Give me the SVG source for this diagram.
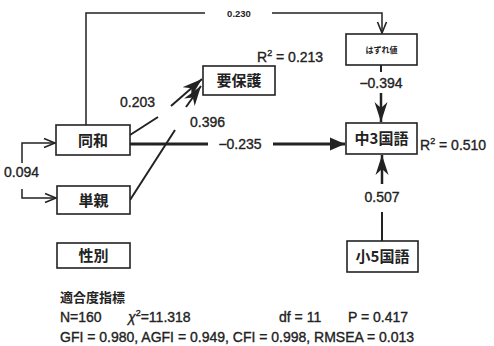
<svg xmlns="http://www.w3.org/2000/svg" width="494" height="346" viewBox="0 0 494 346">
<style>
.box{fill:#fff;stroke:#222;stroke-width:1.6}
.lbl{font-family:"Liberation Sans","Noto Sans CJK JP",sans-serif;font-size:14px;fill:#222;stroke:#222;stroke-width:0.35}
.jp{font-family:"Noto Sans CJK JP",sans-serif;font-weight:bold;font-size:15px;fill:#222}
.ln{fill:none;stroke:#222;stroke-width:2}
.thin{fill:none;stroke:#222;stroke-width:1.5}
</style>
<defs>
<marker id="open" markerUnits="userSpaceOnUse" markerWidth="14" markerHeight="12" refX="12" refY="6" orient="auto">
<path d="M1,1.5 L12,6 L1,10.5" fill="none" stroke="#222" stroke-width="1.6"/>
</marker>
<marker id="tri" markerUnits="userSpaceOnUse" markerWidth="16" markerHeight="14" refX="15" refY="7" orient="auto">
<path d="M0,0.5 L15,7 L0,13.5 Z" fill="#222"/>
</marker>
<marker id="barb" markerUnits="userSpaceOnUse" markerWidth="22" markerHeight="14" refX="20" refY="7" orient="auto">
<path d="M0,0.5 L20,7 L0,13.5 L6,7 Z" fill="#222"/>
</marker>
</defs>
<g id="connectors">
<path class="thin" d="M86,125 V13 H205"/>
<path class="thin" d="M272,13 H382 V33" marker-end="url(#open)"/>
<path class="ln" d="M130,135 L158,117"/>
<path class="ln" d="M171,106 L202,79" marker-end="url(#barb)"/>
<path class="ln" d="M130,200 L175,130"/>
<path class="ln" d="M186,107 L201,86" marker-end="url(#barb)"/>
<path class="ln" style="stroke-width:3" d="M130,144 H208"/>
<path class="ln" style="stroke-width:3" d="M273,144 H345" marker-end="url(#tri)"/>
<path class="ln" d="M381,65 V72"/>
<path class="ln" style="stroke-width:2.5" d="M381,93 V122" marker-end="url(#barb)"/>
<path class="ln" d="M382,241 V212"/>
<path class="ln" style="stroke-width:2.5" d="M382,184 V155" marker-end="url(#barb)"/>
<path class="thin" d="M22,163 V143 H55" marker-end="url(#open)"/>
<path class="thin" d="M22,189 V198 H56" marker-end="url(#open)"/>
</g>
<g id="n-douwa"><rect class="box" x="56" y="125" width="74" height="30"/><text class="jp" x="93" y="145.5" text-anchor="middle">同和</text></g>
<g id="n-tanshin"><rect class="box" x="57" y="186" width="73" height="28"/><text class="jp" x="93.5" y="205.5" text-anchor="middle">単親</text></g>
<g id="n-seibetsu"><rect class="box" x="57" y="243" width="73" height="25"/><text class="jp" x="93.5" y="261" text-anchor="middle">性別</text></g>
<g id="n-youhogo"><rect class="box" x="203" y="66" width="72" height="29"/><text class="jp" x="239" y="86" text-anchor="middle">要保護</text></g>
<g id="n-hazure"><rect class="box" x="346" y="34" width="71" height="31"/><text class="jp" style="font-size:8px" x="381.5" y="52.5" text-anchor="middle">はずれ値</text></g>
<g id="n-chu3"><rect class="box" x="346" y="123" width="71" height="31"/><text class="jp" x="381.5" y="144" text-anchor="middle">中3国語</text></g>
<g id="n-sho5"><rect class="box" x="347" y="241" width="71" height="31"/><text class="jp" x="382.5" y="262" text-anchor="middle">小5国語</text></g>
<g id="labels">
<text class="lbl" style="font-size:9.5px;font-weight:bold;stroke-width:0" x="239" y="17" text-anchor="middle">0.230</text>
<text class="lbl" x="120" y="107">0.203</text>
<text class="lbl" x="190" y="127">0.396</text>
<text class="lbl" x="240" y="149" text-anchor="middle">−0.235</text>
<text class="lbl" x="381" y="88" text-anchor="middle">−0.394</text>
<text class="lbl" x="382" y="202" text-anchor="middle">0.507</text>
<text class="lbl" x="4" y="177">0.094</text>
<text class="lbl" x="257" y="62">R<tspan dy="-6" font-size="9">2</tspan><tspan dy="6"> = 0.213</tspan></text>
<text class="lbl" x="420" y="150">R<tspan dy="-6" font-size="9">2</tspan><tspan dy="6">  = 0.510</tspan></text>
</g>
<g id="fit">
<text class="jp" style="font-size:13px" x="60" y="302">適合度指標</text>
<text class="lbl" x="60" y="322">N=160</text>
<text class="lbl" x="128" y="322"><tspan font-style="italic">χ</tspan><tspan dy="-6" font-size="9">2</tspan><tspan dy="6">=11.318</tspan></text>
<text class="lbl" x="279" y="322">df = 11</text>
<text class="lbl" x="348" y="322">P = 0.417</text>
<text class="lbl" x="60" y="342">GFI = 0.980, AGFI = 0.949, CFI = 0.998, RMSEA = 0.013</text>
</g>
</svg>
